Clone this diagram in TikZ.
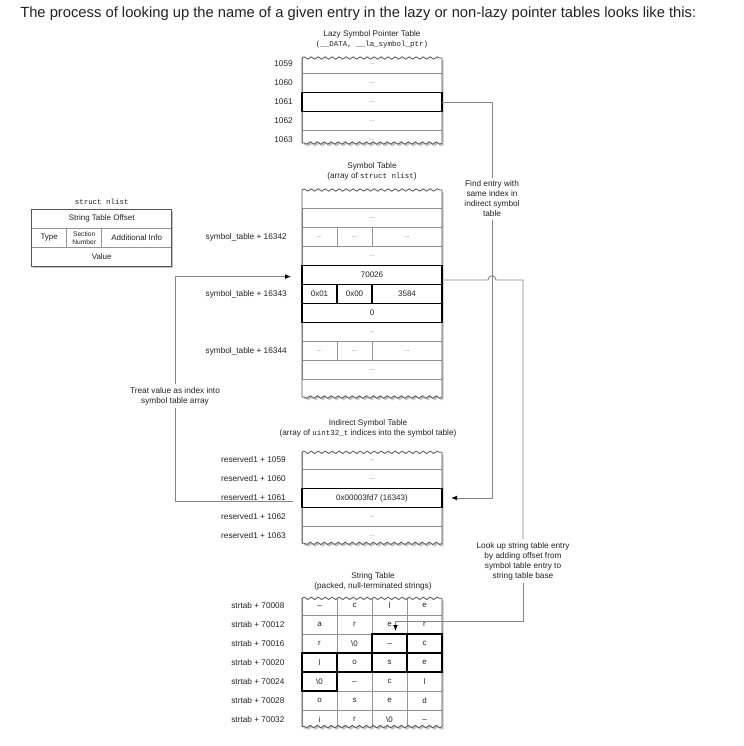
\documentclass[tikz,border=0pt]{standalone}
\usepackage{fontspec}
\setmainfont{Liberation Sans}
\setmonofont{Liberation Mono}
\usetikzlibrary{arrows.meta,positioning,decorations.pathmorphing}
\definecolor{EdgeGray}{HTML}{555555}
\definecolor{RuleGray}{HTML}{939393}
\definecolor{LinkGray}{HTML}{858585}
\definecolor{ShadowGray}{HTML}{C4C4C4}
\definecolor{InkBlack}{HTML}{222222}
\newcommand{\celldots}{\textcolor{black!55}{\fontsize{5}{5}\selectfont ...}}
\newcommand{\codefont}{\ttfamily\fontsize{5.6}{7.5}\selectfont}
% table outline, torn at top and bottom
\newcommand{\tornframe}[2]{(302,#1) decorate[torn]{-- (442,#1)} -- (442,#2) decorate[torn]{-- (302,#2)} -- cycle}
\tikzset{torn/.style={decoration={snake,segment length=5.25pt,amplitude=0.9pt}}}

\begin{document}
\begin{tikzpicture}[x=0.75pt, y=-0.75pt,
    cell/.style={
      draw=RuleGray,
      line width=0.4pt,
      minimum width=105pt,
      minimum height=14.25pt,
      inner sep=0pt,
      outer sep=0pt,
      font=\fontsize{6}{7}\selectfont,
      text=InkBlack
    },
    nrwcell/.style={cell, minimum width=26.25pt},
    widecell/.style={cell, minimum width=52.5pt},
    hl/.style={draw=black, line width=1.4pt},
    tableedge/.style={draw=EdgeGray, line width=0.6pt},
    tableshadow/.style={fill=ShadowGray, xshift=1.3pt, yshift=-1.6pt},
    rowlabel/.style={font=\fontsize{6.2}{7}\selectfont, text=InkBlack, inner sep=0pt},
    tabtitle/.style={align=center, font=\fontsize{6.15}{7.5}\selectfont, text=InkBlack, inner sep=0pt},
    remark/.style={align=center, font=\fontsize{6.2}{7.5}\selectfont, text=InkBlack, inner sep=2pt},
    link/.style={draw=LinkGray, line width=0.7pt},
    flow/.style={link, -{Latex[length=4.5pt,width=3.6pt,color=black]}}
  ]
  \useasboundingbox (0,0) rectangle (743,746);

  \node[anchor=west, inner sep=0pt, text=InkBlack, font=\fontsize{11.07}{13}\selectfont] (intro) at (20,14)
    {The process of looking up the name of a given entry in the lazy or non-lazy pointer tables looks like this:};

  % lazy symbol pointer table
  \node[tabtitle] (lazytitle) at (372,39) {Lazy Symbol Pointer Table\\{\codefont(\_\_DATA, \_\_la\_symbol\_ptr)}};
  \fill[tableshadow] \tornframe{58}{143};
  \fill[white] \tornframe{58}{143};
  \begin{scope}
    \clip \tornframe{58}{143};
    \node[cell] (lz1059) at (372,64) {\celldots};
    \node[cell, below=0pt of lz1059] (lz1060) {\celldots};
    \node[cell, below=0pt of lz1060] (lz1061) {\celldots};
    \node[cell, below=0pt of lz1061] (lz1062) {\celldots};
    \node[cell, below=0pt of lz1062] (lz1063) {\celldots};
  \end{scope}
  \draw[tableedge] \tornframe{58}{143};
  \draw[hl] (lz1061.north west) rectangle (lz1061.south east);
  \node[rowlabel, left=6.75pt of lz1059] {1059};
  \node[rowlabel, left=6.75pt of lz1060] {1060};
  \node[rowlabel, left=6.75pt of lz1061] {1061};
  \node[rowlabel, left=6.75pt of lz1062] {1062};
  \node[rowlabel, left=6.75pt of lz1063] {1063};

  % struct nlist layout
  \fill[tableshadow] (31.7,209.3) rectangle (171.7,266.3);
  \fill[white] (31.7,209.3) rectangle (171.7,266.3);
  \node[cell] (nl1) at (101.7,218.8) {String Table Offset};
  \node[nrwcell, below right=0pt and 0pt of nl1.south west] (nl2a) {Type};
  \node[nrwcell, right=0pt of nl2a, align=center, font=\fontsize{5}{6}\selectfont] (nl2b) {Section\\Number};
  \node[widecell, right=0pt of nl2b] (nl2c) {Additional Info};
  \node[cell, below right=0pt and 0pt of nl2a.south west] (nl3) {Value};
  \draw[tableedge, line width=0.8pt] (nl1.north west) rectangle (nl3.south east);
  \node[rowlabel, above=3pt of nl1, font=\codefont] (nltitle) {struct nlist};

  % symbol table
  \node[tabtitle] (symtitle) at (372,171) {Symbol Table\\(array of {\codefont struct nlist})};
  \fill[tableshadow] \tornframe{190}{397};
  \fill[white] \tornframe{190}{397};
  \begin{scope}
    \clip \tornframe{190}{397};
    \node[cell] (sym1) at (372,218) {\celldots};
    \node[nrwcell, below right=0pt and 0pt of sym1.south west] (sym2a) {\celldots};
    \node[nrwcell, right=0pt of sym2a] (sym2b) {\celldots};
    \node[widecell, right=0pt of sym2b] (sym2c) {\celldots};
    \node[cell, below right=0pt and 0pt of sym2a.south west] (sym3) {\celldots};
    \node[cell, below=0pt of sym3] (sym4) {70026};
    \node[nrwcell, below right=0pt and 0pt of sym4.south west] (sym5a) {0x01};
    \node[nrwcell, right=0pt of sym5a] (sym5b) {0x00};
    \node[widecell, right=0pt of sym5b] (sym5c) {3584};
    \node[cell, below right=0pt and 0pt of sym5a.south west] (sym6) {0};
    \node[cell, below=0pt of sym6] (sym7) {\celldots};
    \node[nrwcell, below right=0pt and 0pt of sym7.south west] (sym8a) {\celldots};
    \node[nrwcell, right=0pt of sym8a] (sym8b) {\celldots};
    \node[widecell, right=0pt of sym8b] (sym8c) {\celldots};
    \node[cell, below right=0pt and 0pt of sym8a.south west] (sym9) {\celldots};
  \end{scope}
  \draw[tableedge] \tornframe{190}{397};
  \draw[hl] (sym4.north west) rectangle (sym4.south east);
  \draw[hl] (sym5a.north west) rectangle (sym5a.south east);
  \draw[hl] (sym5b.north west) rectangle (sym5b.south east);
  \draw[hl] (sym5c.north west) rectangle (sym5c.south east);
  \draw[hl] (sym6.north west) rectangle (sym6.south east);
  \node[rowlabel, left=11.25pt of sym2a] {symbol\_table + 16342};
  \node[rowlabel, left=11.25pt of sym5a] {symbol\_table + 16343};
  \node[rowlabel, left=11.25pt of sym8a] {symbol\_table + 16344};

  % indirect symbol table
  \node[tabtitle] (indtitle) at (368,428.3) {Indirect Symbol Table\\(array of {\codefont uint32\_t} indices into the symbol table)};
  \fill[tableshadow] \tornframe{452.3}{543.3};
  \fill[white] \tornframe{452.3}{543.3};
  \begin{scope}
    \clip \tornframe{452.3}{543.3};
    \node[cell] (ind1059) at (372,460) {\celldots};
    \node[cell, below=0pt of ind1059] (ind1060) {\celldots};
    \node[cell, below=0pt of ind1060] (ind1061) {0x00003fd7 (16343)};
    \node[cell, below=0pt of ind1061] (ind1062) {\celldots};
    \node[cell, below=0pt of ind1062] (ind1063) {\celldots};
  \end{scope}
  \draw[tableedge] \tornframe{452.3}{543.3};
  \draw[hl] (ind1061.north west) rectangle (ind1061.south east);
  \node[rowlabel, left=12pt of ind1059] {reserved1 + 1059};
  \node[rowlabel, left=12pt of ind1060] {reserved1 + 1060};
  \node[rowlabel, left=12pt of ind1061] {reserved1 + 1061};
  \node[rowlabel, left=12pt of ind1062] {reserved1 + 1062};
  \node[rowlabel, left=12pt of ind1063] {reserved1 + 1063};

  % string table
  \node[tabtitle] (strtitle) at (373,581.7) {String Table\\(packed, null-terminated strings)};
  \fill[tableshadow] \tornframe{598.3}{726.5};
  \fill[white] \tornframe{598.3}{726.5};
  \begin{scope}
    \clip \tornframe{598.3}{726.5};
    \node[nrwcell] (st1a) at (319.5,605.5) {\_};
    \node[nrwcell, right=0pt of st1a] (st1b) {c};
    \node[nrwcell, right=0pt of st1b] (st1c) {l};
    \node[nrwcell, right=0pt of st1c] (st1d) {e};
    \node[nrwcell, below=0pt of st1a] (st2a) {a};
    \node[nrwcell, right=0pt of st2a] (st2b) {r};
    \node[nrwcell, right=0pt of st2b] (st2c) {e};
    \node[nrwcell, right=0pt of st2c] (st2d) {r};
    \node[nrwcell, below=0pt of st2a] (st3a) {r};
    \node[nrwcell, right=0pt of st3a] (st3b) {\textbackslash0};
    \node[nrwcell, right=0pt of st3b] (st3c) {\_};
    \node[nrwcell, right=0pt of st3c] (st3d) {c};
    \node[nrwcell, below=0pt of st3a] (st4a) {l};
    \node[nrwcell, right=0pt of st4a] (st4b) {o};
    \node[nrwcell, right=0pt of st4b] (st4c) {s};
    \node[nrwcell, right=0pt of st4c] (st4d) {e};
    \node[nrwcell, below=0pt of st4a] (st5a) {\textbackslash0};
    \node[nrwcell, right=0pt of st5a] (st5b) {\_};
    \node[nrwcell, right=0pt of st5b] (st5c) {c};
    \node[nrwcell, right=0pt of st5c] (st5d) {l};
    \node[nrwcell, below=0pt of st5a] (st6a) {o};
    \node[nrwcell, right=0pt of st6a] (st6b) {s};
    \node[nrwcell, right=0pt of st6b] (st6c) {e};
    \node[nrwcell, right=0pt of st6c] (st6d) {d};
    \node[nrwcell, below=0pt of st6a] (st7a) {i};
    \node[nrwcell, right=0pt of st7a] (st7b) {r};
    \node[nrwcell, right=0pt of st7b] (st7c) {\textbackslash0};
    \node[nrwcell, right=0pt of st7c] (st7d) {\_};
  \end{scope}
  \draw[tableedge] \tornframe{598.3}{726.5};
  \draw[hl] (st3c.north west) rectangle (st3c.south east);
  \draw[hl] (st3d.north west) rectangle (st3d.south east);
  \draw[hl] (st4a.north west) rectangle (st4a.south east);
  \draw[hl] (st4b.north west) rectangle (st4b.south east);
  \draw[hl] (st4c.north west) rectangle (st4c.south east);
  \draw[hl] (st4d.north west) rectangle (st4d.south east);
  \draw[hl] (st5a.north west) rectangle (st5a.south east);
  \node[rowlabel, left=13pt of st1a] {strtab + 70008};
  \node[rowlabel, left=13pt of st2a] {strtab + 70012};
  \node[rowlabel, left=13pt of st3a] {strtab + 70016};
  \node[rowlabel, left=13pt of st4a] {strtab + 70020};
  \node[rowlabel, left=13pt of st5a] {strtab + 70024};
  \node[rowlabel, left=13pt of st6a] {strtab + 70028};
  \node[rowlabel, left=13pt of st7a] {strtab + 70032};

  % lookup path
  \node[remark] (findnote) at (492,199) {Find entry with\\same index in\\indirect symbol\\table};
  \node[remark] (treatnote) at (175,396) {Treat value as index into\\symbol table array};
  \node[remark] (lookupnote) at (523,561) {Look up string table entry\\by adding offset from\\symbol table entry to\\string table base};
  \coordinate (hopL) at (488,280);
  \coordinate (hopR) at (496,280);
  \coordinate (strbend) at (395.5,621);
  \coordinate (strhit) at (395.5,631);

  \draw[link] (lz1061.east) -| (findnote.north);
  \draw[flow] (findnote.south) |- ([xshift=6.75pt]ind1061.east);
  \draw[link] ([xshift=-6.75pt,yshift=-2.8pt]ind1061.west) -| (treatnote.south);
  \draw[flow] (treatnote.north) |- ([xshift=-8.25pt,yshift=-1.2pt]sym4.west);
  \draw[link] ([yshift=-3.75pt]sym4.east) -- (hopL) .. controls +(0,-5.5) and +(0,-5.5) .. (hopR) -| (lookupnote.north);
  \draw[flow] (lookupnote.south) |- (strbend) -- (strhit);
\end{tikzpicture}
\end{document}
